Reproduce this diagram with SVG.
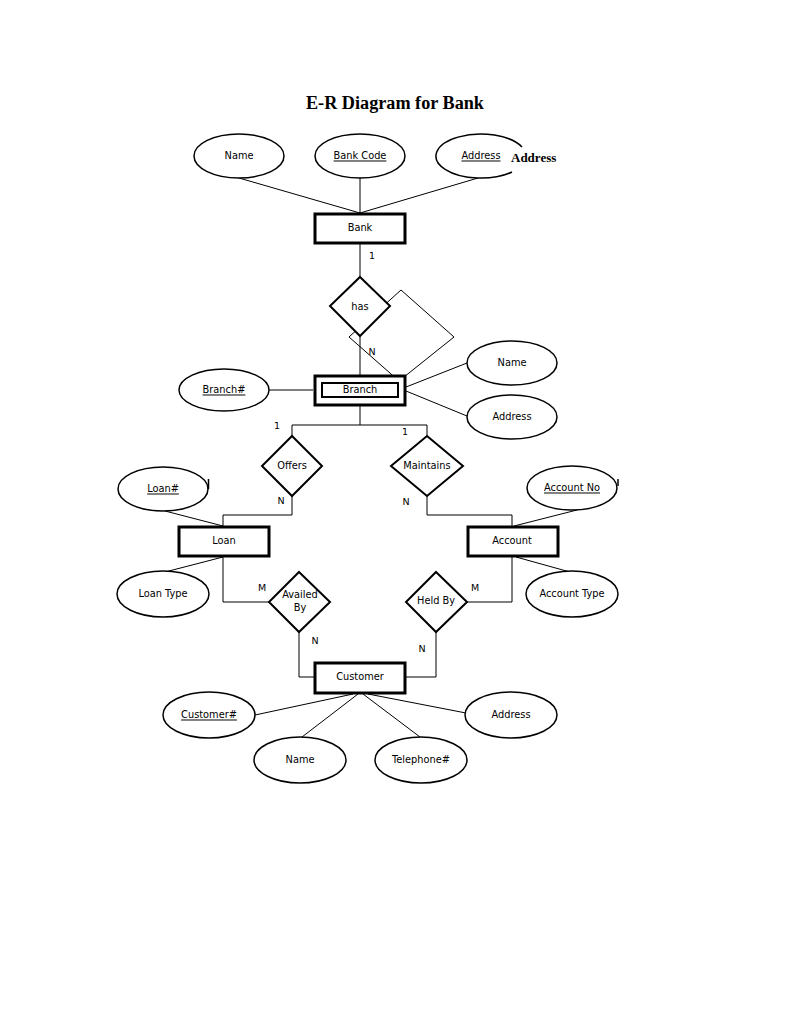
<svg xmlns="http://www.w3.org/2000/svg" width="791" height="1023" viewBox="0 0 791 1023">
<style>
.bg{fill:#fff}
.ent{fill:#fff;stroke:#000;stroke-width:3}
.inner{fill:#fff;stroke:#000;stroke-width:2}
.rel{fill:#fff;stroke:#000;stroke-width:2}
.att{fill:#fff;stroke:#000;stroke-width:1.5}
.ln{fill:none;stroke:#000;stroke-width:1}
.t{font-family:"DejaVu Sans",Verdana,sans-serif;font-size:9.8px;fill:#000;text-anchor:middle;dominant-baseline:central}
.u{text-decoration:underline}
.card{font-family:"DejaVu Sans",Verdana,sans-serif;font-size:9.5px;fill:#000;text-anchor:middle;dominant-baseline:central}
.title{font-family:"Liberation Serif","Times New Roman",serif;font-size:18.2px;font-weight:bold;fill:#000;text-anchor:middle}
.bold{font-family:"Liberation Serif","Times New Roman",serif;font-size:13px;font-weight:bold;fill:#000}
</style>
<rect class="bg" x="0" y="0" width="791" height="1023"/>
<text class="title" x="395" y="109">E-R Diagram for Bank</text>

<g id="connectors">
  <line class="ln" x1="239" y1="178" x2="360" y2="213"/>
  <line class="ln" x1="360" y1="178" x2="360" y2="213"/>
  <line class="ln" x1="478" y1="178" x2="360" y2="213"/>
  <line class="ln" x1="360" y1="243" x2="360" y2="277"/>
  <line class="ln" x1="360" y1="336" x2="360" y2="375"/>
  <polygon class="ln" points="401,290 454,337 399,381 349,337"/>
  <line class="ln" x1="269" y1="390" x2="313" y2="390"/>
  <line class="ln" x1="406" y1="387" x2="467" y2="363"/>
  <line class="ln" x1="406" y1="391" x2="467" y2="416"/>
  <line class="ln" x1="360" y1="406" x2="360" y2="425"/>
  <polyline class="ln" points="292,436 292,425 427,425 427,436"/>
  <polyline class="ln" points="292,496 292,515 223,515 223,526"/>
  <line class="ln" x1="165" y1="511" x2="223" y2="526"/>
  <polyline class="ln" points="427,496 427,515 512,515 512,526"/>
  <line class="ln" x1="577" y1="510" x2="514" y2="526"/>
  <line class="ln" x1="165" y1="572" x2="223" y2="557"/>
  <polyline class="ln" points="223,557 223,602 269,602"/>
  <polyline class="ln" points="299,632 299,677 314,677"/>
  <line class="ln" x1="570" y1="572" x2="516" y2="557"/>
  <polyline class="ln" points="512,557 512,602 467,602"/>
  <polyline class="ln" points="436,632 436,677 406,677"/>
  <line class="ln" x1="353" y1="694" x2="255" y2="715"/>
  <line class="ln" x1="358" y1="694" x2="302" y2="737"/>
  <line class="ln" x1="363" y1="694" x2="420" y2="737"/>
  <line class="ln" x1="368" y1="694" x2="466" y2="713"/>
  <text class="card" x="372" y="255">1</text>
  <text class="card" x="372" y="351">N</text>
  <text class="card" x="277" y="425">1</text>
  <text class="card" x="405" y="431">1</text>
  <text class="card" x="281" y="500">N</text>
  <text class="card" x="406" y="501">N</text>
  <text class="card" x="262" y="587">M</text>
  <text class="card" x="315" y="640">N</text>
  <text class="card" x="475" y="587">M</text>
  <text class="card" x="422" y="648">N</text>
</g>

<g id="bank-name"><ellipse class="att" cx="239" cy="156" rx="45" ry="22"/><text class="t" x="239" y="155">Name</text></g>
<g id="bank-code"><ellipse class="att" cx="360" cy="156" rx="45" ry="22"/><text class="t u" x="360" y="155">Bank Code</text></g>
<g id="bank-address"><path class="att" d="M522,147 A45,22 0 1 0 512,172"/><text class="t u" x="481" y="155">Address</text><text class="bold" x="511" y="162">Address</text></g>
<g id="bank"><rect class="ent" x="315" y="214" width="90" height="29"/><text class="t" x="360" y="227">Bank</text></g>

<g id="has"><polygon class="rel" points="360,277 390,306 360,336 330,306"/><text class="t" x="360" y="306">has</text></g>

<g id="branch"><rect class="ent" x="315" y="376" width="90" height="29"/><rect class="inner" x="322" y="383" width="76" height="14"/><text class="t" x="360" y="389">Branch</text></g>
<g id="branch-no"><ellipse class="att" cx="224" cy="390" rx="45" ry="21"/><text class="t u" x="224" y="389">Branch#</text></g>
<g id="branch-name"><ellipse class="att" cx="512" cy="363" rx="45" ry="22"/><text class="t" x="512" y="362">Name</text></g>
<g id="branch-address"><ellipse class="att" cx="512" cy="417" rx="45" ry="22"/><text class="t" x="512" y="416">Address</text></g>

<g id="offers"><polygon class="rel" points="292,436 322,466 292,496 262,466"/><text class="t" x="292" y="465">Offers</text></g>
<g id="maintains"><polygon class="rel" points="427,436 463,466 427,496 391,466"/><text class="t" x="427" y="465">Maintains</text></g>

<g id="loan"><rect class="ent" x="179" y="527" width="90" height="29"/><text class="t" x="224" y="540">Loan</text></g>
<g id="loan-no"><ellipse class="att" cx="163" cy="489" rx="45" ry="22"/><line class="ln" x1="208.5" y1="479" x2="208.5" y2="489" style="stroke-width:1.5"/><text class="t u" x="163" y="488">Loan#</text></g>
<g id="loan-type"><ellipse class="att" cx="163" cy="594" rx="46" ry="23"/><text class="t" x="163" y="593">Loan Type</text></g>

<g id="account"><rect class="ent" x="468" y="527" width="90" height="29"/><text class="t" x="512" y="540">Account</text></g>
<g id="account-no"><ellipse class="att" cx="572" cy="488" rx="45" ry="22"/><line class="ln" x1="618" y1="479" x2="618" y2="486" style="stroke-width:1.5"/><text class="t u" x="572" y="487">Account No</text></g>
<g id="account-type"><ellipse class="att" cx="572" cy="594" rx="46" ry="23"/><text class="t" x="572" y="593">Account Type</text></g>

<g id="availed-by"><polygon class="rel" points="299,572 330,602 299,632 269,602"/><text class="t" x="300" y="594">Availed</text><text class="t" x="300" y="607">By</text></g>
<g id="held-by"><polygon class="rel" points="436,572 467,602 436,632 406,602"/><text class="t" x="436" y="600">Held By</text></g>

<g id="customer"><rect class="ent" x="315" y="663" width="90" height="30"/><text class="t" x="360" y="676">Customer</text></g>
<g id="customer-no"><ellipse class="att" cx="209" cy="715" rx="46" ry="23"/><text class="t u" x="209" y="714">Customer#</text></g>
<g id="customer-name"><ellipse class="att" cx="300" cy="760" rx="46" ry="23"/><text class="t" x="300" y="759">Name</text></g>
<g id="customer-phone"><ellipse class="att" cx="421" cy="760" rx="46" ry="23"/><text class="t" x="421" y="759">Telephone#</text></g>
<g id="customer-address"><ellipse class="att" cx="511" cy="715" rx="46" ry="23"/><text class="t" x="511" y="714">Address</text></g>
</svg>
